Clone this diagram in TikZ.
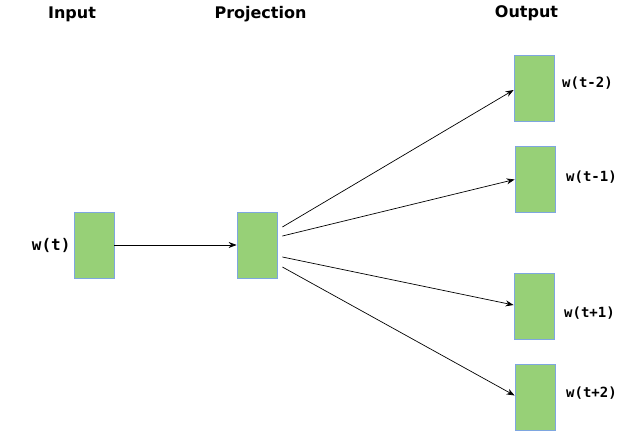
\documentclass[tikz,border=0pt]{standalone}
\usepackage{fontspec}
\setmainfont{DejaVu Sans}
\newfontfamily\wordfont{DejaVu Sans Mono}
\usepackage{tikz}
\usetikzlibrary{arrows.meta, positioning, calc}
\definecolor{boxgreen}{HTML}{97D077}
\definecolor{boxblue}{HTML}{7EA6E0}
\tikzset{
  vec/.style={rectangle, minimum width=40pt, minimum height=66pt, draw=boxblue, fill=boxgreen, line width=0.8pt, inner sep=0pt},
  titel/.style={font=\fontsize{16}{19}\selectfont\bfseries, inner sep=0pt},
  wlabel/.style={font=\wordfont\fontsize{14}{16}\selectfont\bfseries, inner sep=0pt},
  arrow/.style={-{Stealth[length=8pt,width=6pt]},line width=0.7pt,color=black}
}
\begin{document}
\begin{tikzpicture}[x=1pt, y=-1pt]
  \useasboundingbox (0,0) rectangle (635,444);
  % titles
  \node (tin) [titel] at (72,14) {Input};
  \node (tproj) [titel] at (260.5,14) {Projection};
  \node (tout) [titel] at (526.5,13) {Output};
  % word vectors
  \node (win) [vec] at (94,245) {};
  \node (proj) [vec] at (257,245) {};
  \node (o1) [vec] at (534,88) {};
  \node (o2) [vec] at (535,179.5) {};
  \node (o3) [vec] at (534,306) {};
  \node (o4) [vec] at (535,397.5) {};
  % labels
  \node [wlabel, font=\wordfont\fontsize{16}{18}\selectfont\bfseries, left=3pt of win] {w(t)};
  \node [wlabel, anchor=west] at (562,83) {w(t-2)};
  \node [wlabel, anchor=west] at (566,177) {w(t-1)};
  \node [wlabel, anchor=west] at (564,313) {w(t+1)};
  \node [wlabel, anchor=west] at (566,393) {w(t+2)};
  % connectors
  \draw [arrow] (win) -- (proj);
  \draw [arrow] ([xshift=5pt, yshift=18pt]proj.east) -- ([yshift=-2pt]o1.west);
  \draw [arrow] ([xshift=5pt, yshift=9pt]proj.east) -- (o2.west);
  \draw [arrow] ([xshift=5pt, yshift=-12pt]proj.east) -- ([yshift=1pt]o3.west);
  \draw [arrow] ([xshift=5pt, yshift=-22pt]proj.east) -- ([yshift=2pt]o4.west);
\end{tikzpicture}
\end{document}
